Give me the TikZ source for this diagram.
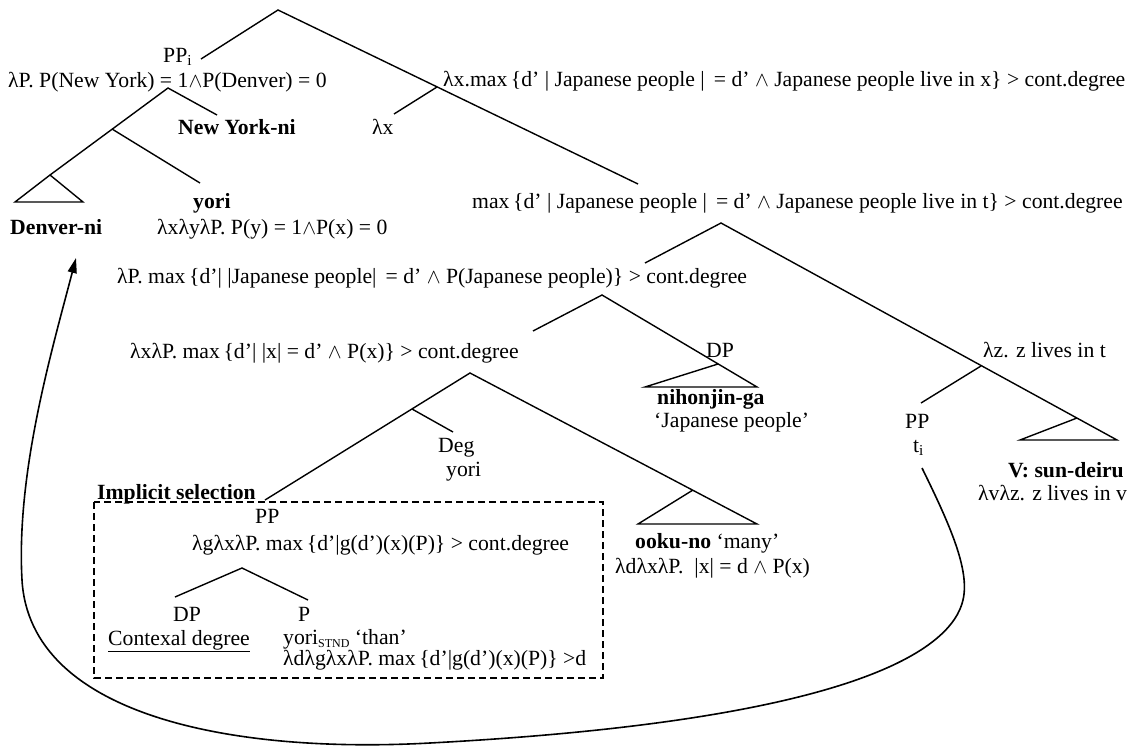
\documentclass[tikz,border=0pt]{standalone}
\usepackage{fontspec}
\setmainfont{Liberation Serif}
\usetikzlibrary{arrows.meta}
\newcommand\sz{\fontsize{21.7}{25}\selectfont}
\newcommand\wdg{\ensuremath{\wedge}}
\newcommand\stnd{\raisebox{-3pt}{\fontsize{12}{12}\selectfont STND}}
\begin{document}
\begin{tikzpicture}[x=1pt,y=-1pt,
  lbl/.style={inner sep=0pt,anchor=base west,font=\sz},
  blbl/.style={lbl,font=\sz\bfseries},
  branch/.style={line width=1.4pt},
  selbox/.style={line width=1.2pt,dash pattern=on 7pt off 4pt},
  move/.style={line width=1.6pt,-{Triangle[length=15pt,width=9pt]}}]
\useasboundingbox (0,0) rectangle (1138,755);

% ---- branching points ----
\coordinate (r0) at (278,10);
\coordinate (ppiT) at (201,59);
\coordinate (r1) at (638,184);
\coordinate (lxJ) at (437,87);
\coordinate (lxE) at (394,114);
\coordinate (ppA) at (168,88);
\coordinate (nyE) at (217,115);
\coordinate (ppM) at (112,129);
\coordinate (denA) at (50,175);
\coordinate (denL) at (15,202);
\coordinate (denR) at (83,202);
\coordinate (yoriE) at (200,183);
\coordinate (s2) at (721,223);
\coordinate (s2L) at (645,263);
\coordinate (lzJ) at (981,366);
\coordinate (ppE) at (921,403);
\coordinate (vA) at (1077,418);
\coordinate (vL) at (1020,440);
\coordinate (vR) at (1117,440);
\coordinate (s3) at (602,295);
\coordinate (s3L) at (533,331);
\coordinate (dpJ) at (718,364);
\coordinate (dpL) at (645,387);
\coordinate (dpR) at (757,387);
\coordinate (s4) at (470,373);
\coordinate (s4L) at (265,500);
\coordinate (degJ) at (412,409);
\coordinate (degE) at (453,432);
\coordinate (okJ) at (693,490);
\coordinate (okL) at (638,524);
\coordinate (okR) at (757,524);
\coordinate (inA) at (242,568);
\coordinate (inL) at (175,597);
\coordinate (inR) at (308,600);
\coordinate (cS) at (922,468);
\coordinate (cE) at (76,258);

% ---- branches ----
\draw[branch] (ppiT) -- (r0) -- (r1);
\draw[branch] (lxJ) -- (lxE);
\draw[branch] (nyE) -- (ppA) -- (denA);
\draw[branch] (ppM) -- (yoriE);
\draw[branch] (denL) -- (denA) -- (denR) -- cycle;
\draw[branch] (s2L) -- (s2) -- (vR) -- (vL) -- (vA);
\draw[branch] (lzJ) -- (ppE);
\draw[branch] (s3L) -- (s3) -- (dpR) -- (dpL) -- (dpJ);
\draw[branch] (s4L) -- (s4) -- (okR) -- (okL) -- (okJ);
\draw[branch] (degJ) -- (degE);
\draw[branch] (inL) -- (inA) -- (inR);

% ---- implicit selection box ----
\draw[selbox] (94,502) rectangle (603,678);

% ---- labels ----
\node[lbl] (ppi) at (163,62) {PP\textsubscript{i}};
\node[lbl] (ppsem) at (8,87) {λP. P(New York) = 1\wdg P(Denver) = 0};
\node[lbl] (lxsem) at (443,86) {λx.max\,\{d’ | Japanese people |\ \,= d’ \wdg\ Japanese people live in x\} > cont.degree};
\node[lbl] (lx) at (372,134) {λx};
\node[blbl] (nyni) at (178,134) {New York-ni};
\node[blbl] (yori1) at (193,208) {yori};
\node[lbl] (maxt) at (472,208) {max\,\{d’ | Japanese people |\ \,= d’ \wdg\ Japanese people live in t\} > cont.degree};
\node[blbl] (denni) at (10,234) {Denver-ni};
\node[lbl] (yorisem) at (157,234) {λxλyλP. P(y) = 1\wdg P(x) = 0};
\node[lbl] (lpsem) at (117,283) {λP. max\,\{d’|\ |Japanese people|\ \,= d’ \wdg\ P(Japanese people)\} > cont.degree};
\node[lbl] (lxpsem) at (130,358) {λxλP. max\,\{d’|\ |x| = d’ \wdg\ P(x)\} > cont.degree};
\node[lbl] (dp1) at (706,357) {DP};
\node[lbl] (lz) at (983,357) {λz. z lives in t};
\node[blbl] (nih) at (657,404) {nihonjin-ga};
\node[lbl] (jp) at (654,427) {‘Japanese people’};
\node[lbl] (pp2) at (905,428) {PP};
\node[lbl] (ti) at (913,452) {t\textsubscript{i}};
\node[lbl] (deg) at (438,452) {Deg};
\node[lbl] (yori2) at (446,476) {yori};
\node[blbl] (vsun) at (1008,477) {V: sun-deiru};
\node[lbl] (vsem) at (978,500) {λvλz. z lives in v};
\node[blbl] (impl) at (97,499) {Implicit selection};
\node[lbl] (pp3) at (255,523) {PP};
\node[lbl] (ppsem3) at (192,550) {λgλxλP. max\,\{d’|g(d’)(x)(P)\} > cont.degree};
\node[lbl] (ooku) at (635,548) {\textbf{ooku-no} ‘many’};
\node[lbl] (ookusem) at (615,573) {λdλxλP.\ \ |x| = d \wdg\ P(x)};
\node[lbl] (dp2) at (173,621) {DP};
\node[lbl] (ctx) at (108,645) {\underline{Contexal degree}};
\node[lbl] (p2) at (298,621) {P};
\node[lbl] (yoristnd) at (283,644) {yori\stnd\ ‘than’};
\node[lbl] (yorisem2) at (283,665) {λdλgλxλP. max\,\{d’|g(d’)(x)(P)\} >d};

% ---- movement of the PP ----
\draw[move] (cS) .. controls (950,525) and (970,570) .. (963,600)
  .. controls (952,648) and (860,720) .. (430,743)
  .. controls (230,754) and (30,715) .. (22,580)
  .. controls (16,472) and (52,350) .. (cE);
\end{tikzpicture}
\end{document}
